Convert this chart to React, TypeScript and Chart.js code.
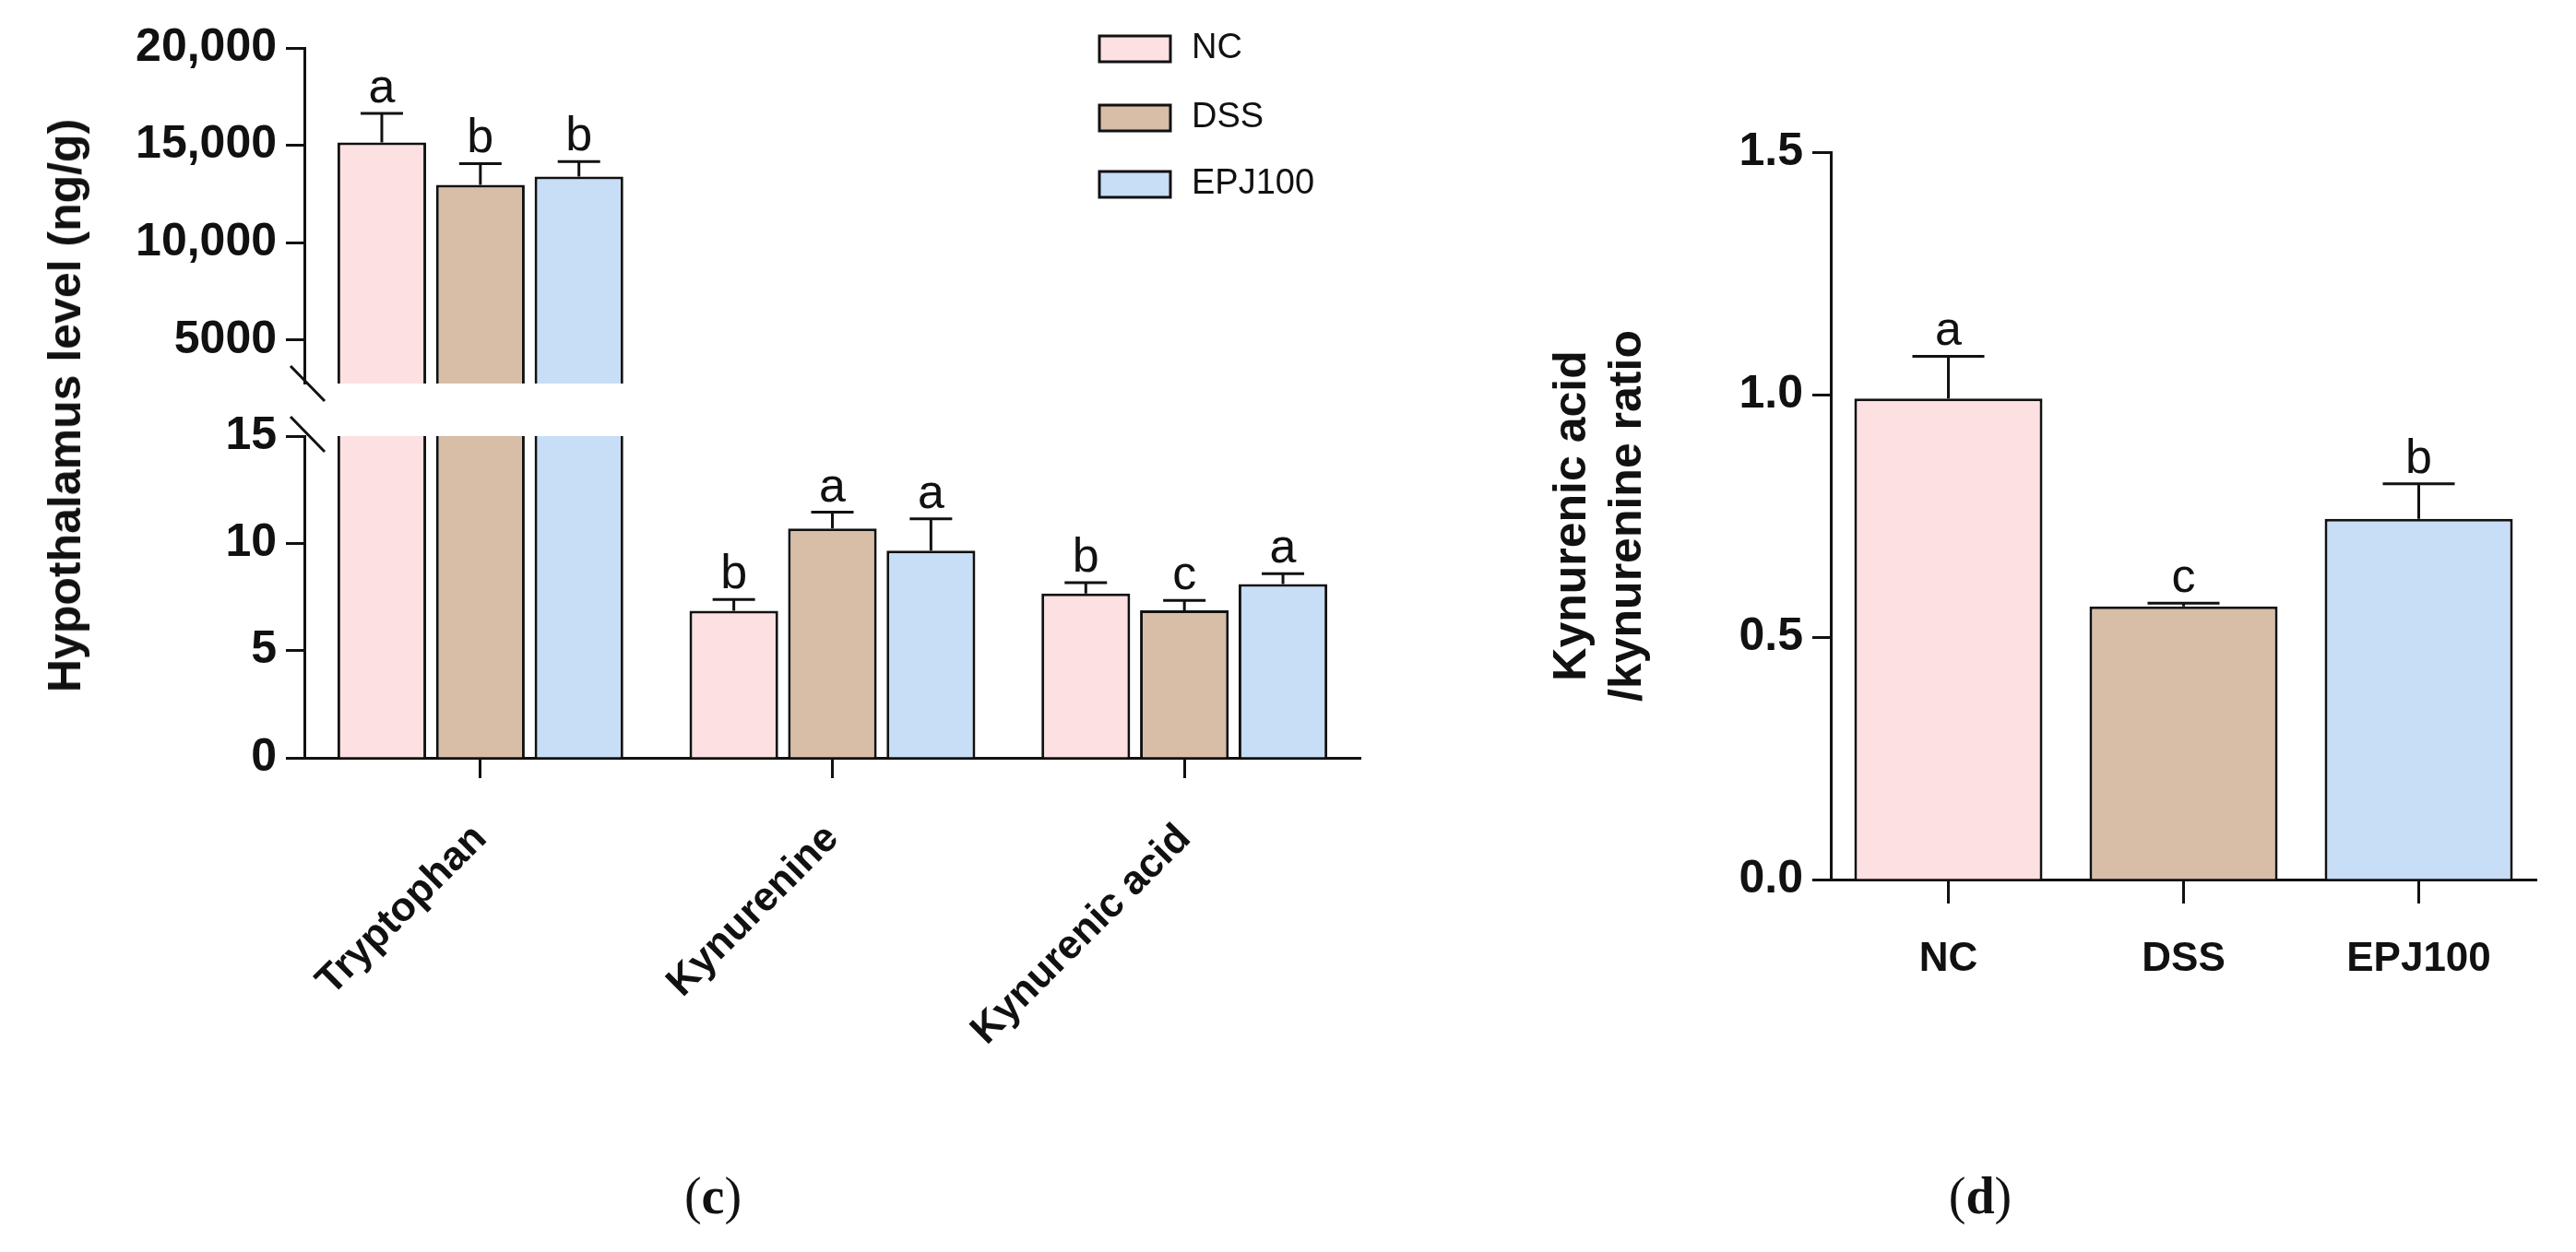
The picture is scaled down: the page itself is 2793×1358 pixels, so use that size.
import React, { useEffect, useRef } from "react";
import { Chart, registerables } from "chart.js";
Chart.register(...registerables);

const groups = ["NC", "DSS", "EPJ100"];
const colors = ["#FDE0E1", "#D8BDA7", "#C8DDF6"];
const metabolites = ["Tryptophan", "Kynurenine", "Kynurenic acid"];
// values per group across metabolites
const ncVals = [15150, 6.86, 7.66];
const dssVals = [12970, 10.69, 6.88];
const epjVals = [13400, 9.66, 8.1];
const ncErr = [16640, 7.38, 8.17];
const dssErr = [14060, 11.45, 7.34];
const epjErr = [14170, 11.14, 8.58];
const ncLetters = ["a", "b", "b"];
const dssLetters = ["b", "a", "c"];
const epjLetters = ["b", "a", "a"];
const topTicks = [5000, 10000, 15000, 20000];
const bottomTicks = [0, 5, 10, 15];
const ratioVals = [0.992, 0.563, 0.744];
const ratioErr = [1.079, 0.57, 0.816];
const ratioLetters = ["a", "c", "b"];
const ratioTicks = [0, 0.5, 1.0, 1.5];

const FONT = "'Liberation Sans', Arial, sans-serif";
const vals = [ncVals, dssVals, epjVals];
const errs = [ncErr, dssErr, epjErr];
const lets = [ncLetters, dssLetters, epjLetters];

const errPlugin = (errFor: (d: number, i: number) => number | null, letFor: (d: number, i: number) => string | null, capW: number) => ({
  id: "err",
  afterDatasetsDraw(chart: any) {
    const ctx = chart.ctx;
    const ys = chart.scales.y;
    const ca = chart.chartArea;
    ctx.save();
    chart.data.datasets.forEach((ds: any, d: number) => {
      const meta = chart.getDatasetMeta(d);
      meta.data.forEach((bar: any, i: number) => {
        const e = errFor(d, i);
        if (e == null) return;
        const yT = ys.getPixelForValue(e);
        if (yT < ca.top - 5 || bar.y > ca.bottom) return;
        ctx.strokeStyle = "#111";
        ctx.lineWidth = 3;
        ctx.beginPath();
        ctx.moveTo(bar.x, bar.y);
        ctx.lineTo(bar.x, yT);
        ctx.moveTo(bar.x - capW / 2, yT);
        ctx.lineTo(bar.x + capW / 2, yT);
        ctx.stroke();
        const l = letFor(d, i);
        if (l) {
          ctx.fillStyle = "#111";
          ctx.font = `52px ${FONT}`;
          ctx.textAlign = "center";
          ctx.textBaseline = "alphabetic";
          ctx.fillText(l, bar.x, yT - 12);
        }
      });
    });
    ctx.restore();
  },
});

const yAxis = (min: number, max: number, ticks: number[], fmt: (v: number) => string, width: number, title?: any) => ({
  min,
  max,
  afterFit: (a: any) => { a.width = width; },
  afterBuildTicks: (a: any) => { a.ticks = ticks.map((v) => ({ value: v })); },
  grid: { display: true, drawOnChartArea: false, tickLength: 20, tickWidth: 3, color: "#111" },
  border: { display: true, width: 3, color: "#111" },
  ticks: { color: "#111", font: { family: FONT, size: 50, weight: "bold" }, padding: 10, callback: (v: any) => fmt(Number(v)) },
  title: title || { display: false },
});

function useChart(ref: any, cfg: () => any) {
  useEffect(() => {
    const c = new Chart(ref.current, cfg());
    return () => c.destroy();
  }, []);
}

const fmtBig = (v: number) => (v >= 10000 ? v.toLocaleString("en-US") : String(v));

export default function App() {
  const topRef = useRef<HTMLCanvasElement>(null);
  const botRef = useRef<HTMLCanvasElement>(null);
  const rRef = useRef<HTMLCanvasElement>(null);

  useEffect(() => { document.body.style.margin = "0"; }, []);

  const barDatasets = () =>
    groups.map((g, d) => ({
      label: g,
      data: vals[d],
      backgroundColor: colors[d],
      borderColor: "#111",
      borderWidth: 3,
      categoryPercentage: 0.84,
      barPercentage: 0.9,
    }));

  const legendPlugin = {
    id: "lg",
    afterDraw(chart: any) {
      const ctx = chart.ctx;
      const rows = [53, 128, 200];
      groups.forEach((g, i) => {
        ctx.fillStyle = colors[i];
        ctx.fillRect(1192, rows[i] - 14, 77, 28);
        ctx.strokeStyle = "#111";
        ctx.lineWidth = 3;
        ctx.strokeRect(1192, rows[i] - 14, 77, 28);
        ctx.fillStyle = "#111";
        ctx.font = `38px ${FONT}`;
        ctx.textAlign = "left";
        ctx.textBaseline = "middle";
        ctx.fillText(g, 1292, rows[i]);
      });
      ctx.strokeStyle = "#111";
      ctx.lineWidth = 3;
      ctx.beginPath();
      ctx.moveTo(315, 397);
      ctx.lineTo(352, 435);
      ctx.stroke();
    },
  };

  useChart(topRef, () => ({
    type: "bar",
    data: { labels: metabolites, datasets: barDatasets() },
    options: {
      animation: false, responsive: false, maintainAspectRatio: false,
      layout: { padding: { top: 52, bottom: 5, right: 25, left: 0 } },
      plugins: { legend: { display: false }, tooltip: { enabled: false } },
      scales: {
        x: { display: false },
        y: yAxis(2770, 20000, topTicks, fmtBig, 330),
      },
    },
    plugins: [errPlugin((d, i) => (i === 0 ? errs[d][i] : null), (d, i) => (i === 0 ? lets[d][i] : null), 46), legendPlugin],
  }));

  useChart(botRef, () => ({
    type: "bar",
    data: { labels: metabolites, datasets: barDatasets() },
    options: {
      animation: false, responsive: false, maintainAspectRatio: false,
      layout: { padding: { top: 0, bottom: 0, right: 25, left: 0 } },
      plugins: { legend: { display: false }, tooltip: { enabled: false } },
      scales: {
        x: {
          afterFit: (a: any) => { a.height = 1250 - 822; },
          grid: { display: true, drawOnChartArea: false, tickLength: 22, tickWidth: 3, color: "#111", offset: false },
          border: { display: true, width: 3, color: "#111" },
          ticks: { color: "#111", font: { family: FONT, size: 44, weight: "bold" }, minRotation: 45, maxRotation: 45, padding: 40 },
        },
        y: yAxis(0, 15, bottomTicks, (v) => String(v), 330),
      },
    },
    plugins: [
      errPlugin((d, i) => (i === 0 ? null : errs[d][i]), (d, i) => (i === 0 ? null : lets[d][i]), 46),
      {
        id: "slash2",
        afterDraw(chart: any) {
          const ctx = chart.ctx;
          ctx.strokeStyle = "#111";
          ctx.lineWidth = 3;
          ctx.beginPath();
          ctx.moveTo(315, 19);
          ctx.lineTo(352, 57);
          ctx.stroke();
        },
      },
    ],
  }));

  useChart(rRef, () => ({
    type: "bar",
    data: {
      labels: groups,
      datasets: [{
        data: ratioVals,
        backgroundColor: colors,
        borderColor: "#111",
        borderWidth: 3,
        categoryPercentage: 1,
        barPercentage: 0.8,
      }],
    },
    options: {
      animation: false, responsive: false, maintainAspectRatio: false,
      layout: { padding: { top: 65, bottom: 0, right: 43, left: 25 } },
      plugins: { legend: { display: false }, tooltip: { enabled: false } },
      scales: {
        x: {
          afterFit: (a: any) => { a.height = 1100 - 954; },
          grid: { display: true, drawOnChartArea: false, tickLength: 26, tickWidth: 3, color: "#111", offset: false },
          border: { display: true, width: 3, color: "#111" },
          ticks: { color: "#111", font: { family: FONT, size: 44, weight: "bold" }, padding: 34 },
        },
        y: yAxis(0, 1.5, ratioTicks, (v) => v.toFixed(1), 310, {
          display: true,
          text: ["Kynurenic acid", "/kynurenine ratio"],
          color: "#111",
          font: { family: FONT, size: 50, weight: "bold" },
          padding: { top: 0, bottom: 20 },
        }),
      },
    },
    plugins: [errPlugin((d, i) => ratioErr[i], (d, i) => ratioLetters[i], 78)],
  }));

  return (
    <div style={{ position: "relative", width: 2793, height: 1358, background: "#fff", overflow: "hidden" }}>
      <canvas ref={topRef} width={1500} height={456} style={{ position: "absolute", left: 0, top: 0, width: 1500, height: 456 }} />
      <canvas ref={botRef} width={1500} height={817} style={{ position: "absolute", left: 0, top: 433, width: 1500, height: 817 }} />
      <canvas ref={rRef} width={1143} height={1000} style={{ position: "absolute", left: 1650, top: 100, width: 1143, height: 1000 }} />
      <div style={{ position: "absolute", left: 70, top: 440, transform: "translate(-50%,-50%) rotate(-90deg)", whiteSpace: "nowrap", fontFamily: FONT, fontWeight: "bold", fontSize: 50, color: "#111" }}>
        Hypothalamus level (ng/g)
      </div>
      <div style={{ position: "absolute", left: 773, top: 1297, transform: "translate(-50%,-50%)", fontFamily: "'Liberation Serif', serif", fontSize: 56, color: "#111" }}>
        (<b>c</b>)
      </div>
      <div style={{ position: "absolute", left: 2147, top: 1297, transform: "translate(-50%,-50%)", fontFamily: "'Liberation Serif', serif", fontSize: 56, color: "#111" }}>
        (<b>d</b>)
      </div>
    </div>
  );
}
